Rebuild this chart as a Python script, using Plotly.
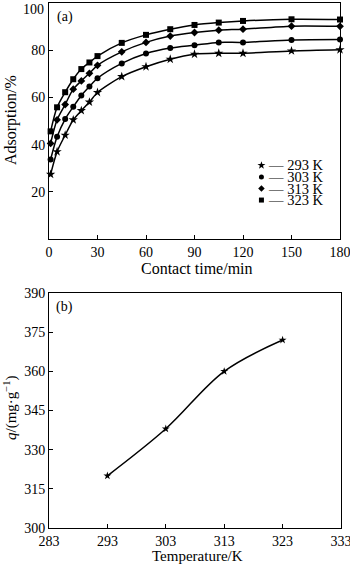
import plotly.graph_objects as go

# Contact-time series (min) and adsorption (%) at four temperatures
contact_time = [1, 5, 10, 15, 20, 25, 30, 45, 60, 75, 90, 105, 120, 150, 180]
ads_293 = [27.4, 37.0, 44.0, 50.5, 54.4, 58.0, 62.1, 68.8, 73.0, 76.2, 78.3, 78.7, 78.7, 79.7, 80.2]
ads_303 = [33.7, 43.3, 50.8, 56.0, 60.8, 64.6, 68.1, 74.4, 78.6, 80.9, 82.1, 83.3, 83.3, 84.3, 84.5]
ads_313 = [40.5, 50.5, 57.0, 63.5, 67.0, 70.2, 73.6, 79.3, 83.3, 86.0, 87.5, 88.5, 88.9, 90.2, 90.1]
ads_323 = [45.6, 55.8, 62.2, 67.7, 72.0, 74.8, 77.5, 83.1, 86.5, 88.9, 90.7, 91.7, 92.4, 93.1, 93.0]
series_labels = ["293 K", "303 K", "313 K", "323 K"]
series_symbols = ["star", "circle", "diamond", "square"]
series_sizes = [7, 6, 6, 6]

# Equilibrium capacity vs temperature
temperature = [293, 303, 313, 323]
capacity = [320, 338, 360, 372]

# Tick positions and labels
time_ticks = [0, 30, 60, 90, 120, 150, 180]
ads_ticks = [20, 40, 60, 80, 100]
temp_ticks = [283, 293, 303, 313, 323, 333]
cap_ticks = [300, 315, 330, 345, 360, 375, 390]

FONT = "Liberation Serif, Times New Roman, serif"
BLACK = "#000000"

fig = go.Figure()

for vals, sym, sz in zip([ads_293, ads_303, ads_313, ads_323], series_symbols, series_sizes):
    fig.add_trace(go.Scatter(
        x=contact_time, y=vals, mode="lines+markers",
        line=dict(color=BLACK, width=1.5, shape="spline", smoothing=0.8),
        marker=dict(symbol=sym, size=sz, color=BLACK),
        xaxis="x", yaxis="y", showlegend=False, cliponaxis=False,
    ))

fig.add_trace(go.Scatter(
    x=temperature, y=capacity, mode="lines+markers",
    line=dict(color=BLACK, width=1.5, shape="spline", smoothing=1.0),
    marker=dict(symbol="star", size=6, color=BLACK),
    xaxis="x2", yaxis="y2", showlegend=False,
))

# Legend block drawn inside panel (a) on an overlay axis spanning [0, 1]
leg_y0, leg_dy = 0.312, 0.049
for i, (sym, lab, sz) in enumerate(zip(series_symbols, series_labels, series_sizes)):
    yy = leg_y0 - i * leg_dy
    fig.add_trace(go.Scatter(
        x=[0.73], y=[yy], mode="markers",
        marker=dict(symbol=sym, size=sz - 1, color=BLACK),
        xaxis="x3", yaxis="y3", showlegend=False, hoverinfo="skip",
    ))
    fig.add_annotation(
        x=0.745, y=yy, xref="x3", yref="y3", text="\u2014 " + lab,
        showarrow=False, xanchor="left", yanchor="middle",
        font=dict(family=FONT, size=14.5, color=BLACK),
    )

W, H = 350, 564
xd = [49 / W, 340 / W]
xd2 = [49 / W, 341 / W]
yd_top = [1 - 239 / H, 1 - 3 / H]
yd_bot = [1 - 528 / H, 1 - 293 / H]

tick_font = dict(family=FONT, size=14, color=BLACK)
axis_common = dict(
    showgrid=False, zeroline=False, showline=True, linecolor=BLACK, linewidth=1,
    mirror=True, ticks="inside", ticklen=4, tickwidth=1, tickcolor=BLACK,
    tickfont=tick_font, automargin=False, ticklabeloverflow="allow",
)

# The topmost label of panel (a) sits just below its tick so it stays on the page
ads_ticktext = [str(v) for v in ads_ticks[:-1]] + [""]

fig.update_layout(
    width=W, height=H,
    margin=dict(l=0, r=0, t=0, b=0, autoexpand=False),
    paper_bgcolor="white", plot_bgcolor="white",
    xaxis=dict(domain=xd, range=[0, 180], tickvals=time_ticks, anchor="y", **axis_common),
    yaxis=dict(domain=yd_top, range=[0, 100], tickvals=ads_ticks, ticktext=ads_ticktext,
               anchor="x", **axis_common),
    xaxis2=dict(domain=xd2, range=[283, 333], tickvals=temp_ticks, anchor="y2", **axis_common),
    yaxis2=dict(domain=yd_bot, range=[300, 390], tickvals=cap_ticks, anchor="x2", **axis_common),
    xaxis3=dict(domain=xd, range=[0, 1], visible=False, anchor="y3", overlaying="x"),
    yaxis3=dict(domain=yd_top, range=[0, 1], visible=False, anchor="x3", overlaying="y"),
)

fig.add_annotation(x=0, y=ads_ticks[-1], xref="x", yref="y", text=str(ads_ticks[-1]),
                   showarrow=False, xanchor="right", yanchor="top", xshift=-3, yshift=3,
                   font=tick_font)

# Panel tags and axis titles
fig.add_annotation(x=0.02, y=0.985, xref="x3", yref="y3", text="(a)", showarrow=False,
                   xanchor="left", yanchor="top", font=dict(family=FONT, size=14, color=BLACK))
fig.add_annotation(x=283.8, y=388.5, xref="x2", yref="y2", text="(b)", showarrow=False,
                   xanchor="left", yanchor="top", font=dict(family=FONT, size=14, color=BLACK))

title_font = dict(family=FONT, size=16, color=BLACK)
fig.add_annotation(x=11 / W, y=1 - 120 / H, xref="paper", yref="paper", text="Adsorption/%",
                   textangle=-90, showarrow=False, xanchor="center", yanchor="middle",
                   font=title_font)
fig.add_annotation(x=197 / W, y=1 - 268 / H, xref="paper", yref="paper", text="Contact time/min",
                   showarrow=False, xanchor="center", yanchor="middle", font=title_font)
fig.add_annotation(x=10 / W, y=1 - 408 / H, xref="paper", yref="paper",
                   text="<i>q</i>/(mg\u00b7g<sup>\u22121</sup>)",
                   textangle=-90, showarrow=False, xanchor="center", yanchor="middle",
                   font=dict(family=FONT, size=15, color=BLACK))
fig.add_annotation(x=197 / W, y=1 - 556 / H, xref="paper", yref="paper", text="Temperature/K",
                   showarrow=False, xanchor="center", yanchor="middle",
                   font=dict(family=FONT, size=15, color=BLACK))

fig.write_html("out.html")
